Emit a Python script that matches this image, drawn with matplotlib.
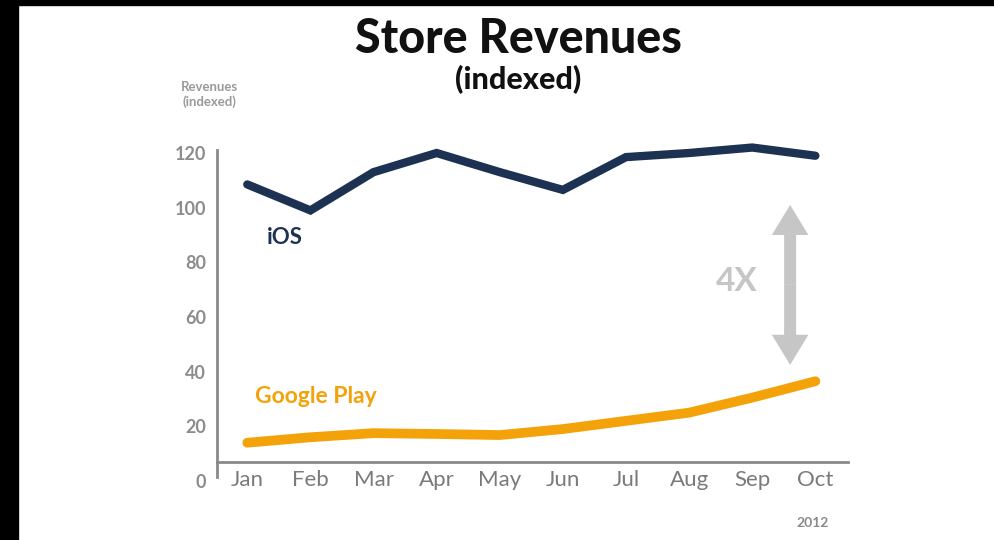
import matplotlib.pyplot as plt
from matplotlib.patches import Rectangle, FancyArrow

months = ["Jan", "Feb", "Mar", "Apr", "May", "Jun", "Jul", "Aug", "Sep", "Oct"]
ios = [108.5, 99, 113, 120, 113, 106.5, 118.5, 120, 122, 119]
google_play = [14, 16, 17.5, 17.2, 16.8, 19, 22, 25, 30.5, 36.5]
y_ticks = [0, 20, 40, 60, 80, 100, 120]

navy = "#1d3252"
orange = "#f4a20a"
gray = "#8c8c8c"
arrow_gray = "#c6c6c6"

plt.rcParams["font.family"] = ["Lato", "DejaVu Sans"]

fig = plt.figure(figsize=(9.94, 5.4), dpi=100)
ax = fig.add_axes([0.2183, 0.0941, 0.635, 0.6428])

x = list(range(len(months)))
ax.plot(x, ios, color=navy, lw=6, solid_capstyle="round", solid_joinstyle="miter")
ax.plot(x, google_play, color=orange, lw=7, solid_capstyle="round", solid_joinstyle="round")

ax.set_xlim(-0.48, 9.52)
ax.set_ylim(-3, 124)

for s in ["top", "right"]:
    ax.spines[s].set_visible(False)
ax.spines["left"].set_bounds(1.5, 121)
ax.spines["bottom"].set_position(("data", 7))
for s in ["left", "bottom"]:
    ax.spines[s].set_color("#8a8a8a")
    ax.spines[s].set_linewidth(2)

ax.set_xticks(x)
ax.set_xticklabels(months)
ax.set_yticks(y_ticks)
ax.tick_params(axis="x", length=0, pad=6, labelsize=16, labelcolor="#7a7a7a")
ax.tick_params(axis="y", length=0, pad=8, labelsize=13, labelcolor=gray)
for lab in ax.get_yticklabels():
    lab.set_fontweight("bold")

# series labels
ax.text(0.6, 89, "iOS", color=navy, fontsize=16, fontweight="bold", ha="center", va="center")
ax.text(1.08, 31, "Google Play", color=orange, fontsize=16.5, fontweight="bold", ha="center", va="center")

# 4X gap arrow, drawn as two arrows from the middle
arrow_x = 8.6
arrow_top, arrow_bottom = 101, 42.5
mid = (arrow_top + arrow_bottom) / 2
for end in (arrow_top, arrow_bottom):
    ax.add_patch(FancyArrow(arrow_x, mid, 0, end - mid, width=0.19, head_width=0.58,
                            head_length=11, length_includes_head=True,
                            color=arrow_gray, lw=0))
ax.text(7.75, 73, "4X", color=arrow_gray, fontsize=24, fontweight="bold", ha="center", va="center")

fig.text(0.522, 0.928, "Store Revenues", fontsize=33.5, fontweight="black", ha="center", va="center", color="#111111")
fig.text(0.521, 0.853, "(indexed)", fontsize=22, fontweight="black", ha="center", va="center", color="#111111")
fig.text(0.211, 0.825, "Revenues\n(indexed)", fontsize=9.5, fontweight="bold", ha="center", va="center",
         color="#9a9a9a", linespacing=1.3)
fig.text(0.818, 0.032, "2012", fontsize=10, fontweight="bold", ha="center", va="center", color="#8a8a8a")

# black frame edges of the screenshot
fig.patches.append(Rectangle((0, 0), 18 / 994, 1, transform=fig.transFigure, color="black", zorder=10))
fig.patches.append(Rectangle((0, 1 - 5 / 540), 1, 5 / 540, transform=fig.transFigure, color="black", zorder=10))

fig.savefig("out.png", dpi=100)
